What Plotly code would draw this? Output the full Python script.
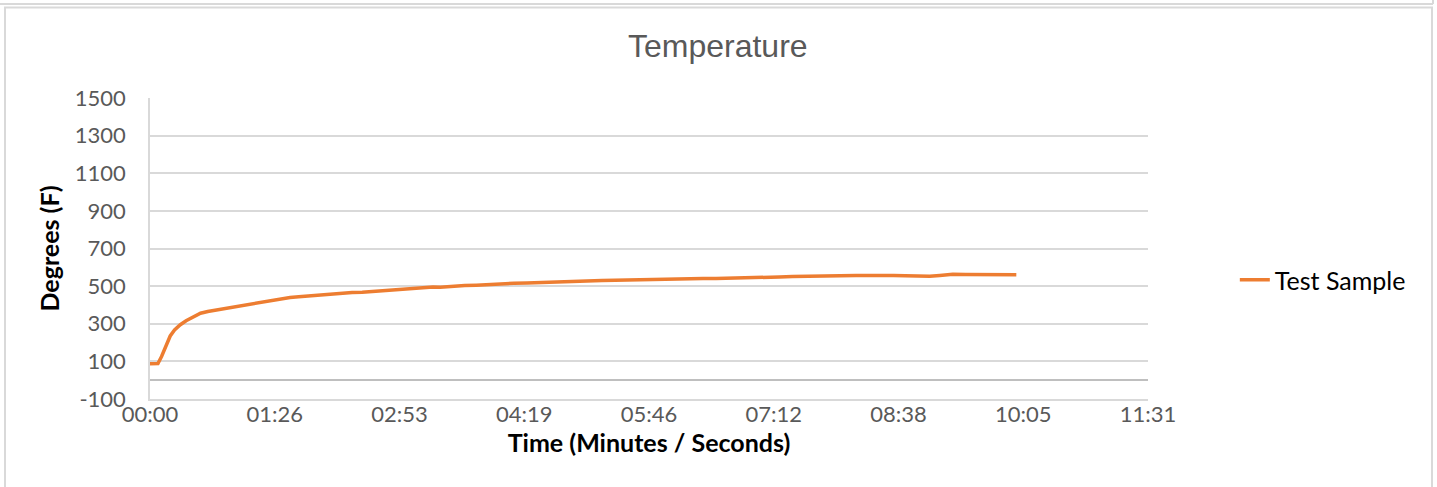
import plotly.graph_objects as go

# Time in seconds since start, temperature in degrees F
time_s = [0, 3, 5.5, 8, 11.5, 14, 17, 21, 25, 30, 35, 40, 45, 51, 56, 62, 68, 74, 80, 85,
          91, 97, 103, 109, 115, 120, 126, 132, 140, 147, 154, 161, 167, 173, 180, 188, 196,
          201, 210, 218, 226, 235, 243, 252, 261, 270, 279, 287, 296, 305, 313, 322, 331,
          339, 348, 357, 366, 374, 383, 392, 402, 409, 418, 427, 436, 445, 454, 462, 471,
          480, 489, 497, 506, 515, 523, 532, 540, 547, 556, 565, 574, 583, 592, 600]
temp_f = [88, 88, 89, 126, 197, 235, 267, 295, 316, 338, 356, 365, 372, 377, 385, 394, 402,
          411, 418, 424, 433, 440, 443, 447, 453, 457, 459, 462, 466, 468, 472, 477, 481, 486,
          489, 492, 496, 494, 500, 503, 505, 510, 512, 515, 516, 519, 522, 524, 526, 528, 530,
          531, 533, 533, 536, 537, 539, 540, 541, 540, 541, 544, 546, 547, 549, 551, 553, 555,
          556, 556, 557, 557, 558, 556, 555, 554, 553, 557, 563, 562, 562, 561, 561, 561]

x_tick_vals = [0, 86.4, 172.8, 259.2, 345.6, 432.0, 518.4, 604.8, 691.2]
x_tick_text = ["00:00", "01:26", "02:53", "04:19", "05:46", "07:12", "08:38", "10:05", "11:31"]
y_tick_vals = [-100, 100, 300, 500, 700, 900, 1100, 1300, 1500]
y_tick_text = ["-100", "100", "300", "500", "700", "900", "1100", "1300", "1500"]

series_name = "Test Sample"
LINE = "#ED7D31"
GRID = "#d9d9d9"
TXT = "#595959"
BODY = "Lato, Carlito, Calibri, sans-serif"

fig = go.Figure()
fig.add_trace(go.Scatter(x=time_s, y=temp_f, mode="lines", name=series_name,
                         line=dict(color=LINE, width=3.5)))

fig.update_layout(
    width=1437, height=487,
    margin=dict(l=150, r=289, t=98, b=88, autoexpand=False),
    paper_bgcolor="white", plot_bgcolor="white",
    title=dict(text="Temperature", x=0.4995, xanchor="center", y=0.905, yanchor="middle",
               font=dict(family="Liberation Sans, Arial, sans-serif", size=32, color=TXT)),
    showlegend=True,
    legend=dict(x=1.087, xanchor="left", y=0.395, yanchor="middle",
                font=dict(family=BODY, size=25, color="black"),
                bgcolor="rgba(0,0,0,0)"),
    font=dict(family=BODY),
)

fig.update_xaxes(
    range=[0, 691.2], tickmode="array", tickvals=x_tick_vals, ticktext=x_tick_text,
    showgrid=False, zeroline=False, showline=True, linecolor=GRID, linewidth=1.5,
    ticks="", ticklabelstandoff=-5, tickfont=dict(family=BODY, size=22, color=TXT), automargin=False,
    title=dict(text="<b>Time (Minutes / Seconds)</b>", standoff=8,
               font=dict(family=BODY, size=25, color="black")),
)
fig.update_yaxes(
    range=[-100, 1500], tickmode="array", tickvals=y_tick_vals, ticktext=y_tick_text,
    showgrid=True, gridcolor=GRID, gridwidth=1.5,
    zeroline=True, zerolinecolor="#bfbfbf", zerolinewidth=1.5,
    showline=True, linecolor=GRID, linewidth=1.5,
    ticks="", ticklabelstandoff=18, tickfont=dict(family=BODY, size=22, color=TXT),
    automargin=False,
    title=dict(text="<b>Degrees (F)</b>", standoff=8,
               font=dict(family=BODY, size=25, color="black")),
)

# chart frame (Excel chart-area border)
def px(xp):
    return (xp - 150) / 998.0

def py(yp):
    return (399 - yp) / 301.0

frame = dict(color="#d9d9d9", width=2)
fig.add_shape(type="line", xref="paper", yref="paper", x0=px(-5), x1=px(1433), y0=py(4), y1=py(4), line=frame)
fig.add_shape(type="line", xref="paper", yref="paper", x0=px(1433), x1=px(1433), y0=py(-5), y1=py(4), line=frame)
fig.add_shape(type="rect", xref="paper", yref="paper", x0=px(5), x1=px(1432), y0=py(495), y1=py(7.5), line=frame)

fig.write_html("out.html",
               config={"displayModeBar": False},
               post_script="document.body.style.margin='0';document.body.style.overflow='hidden';")
